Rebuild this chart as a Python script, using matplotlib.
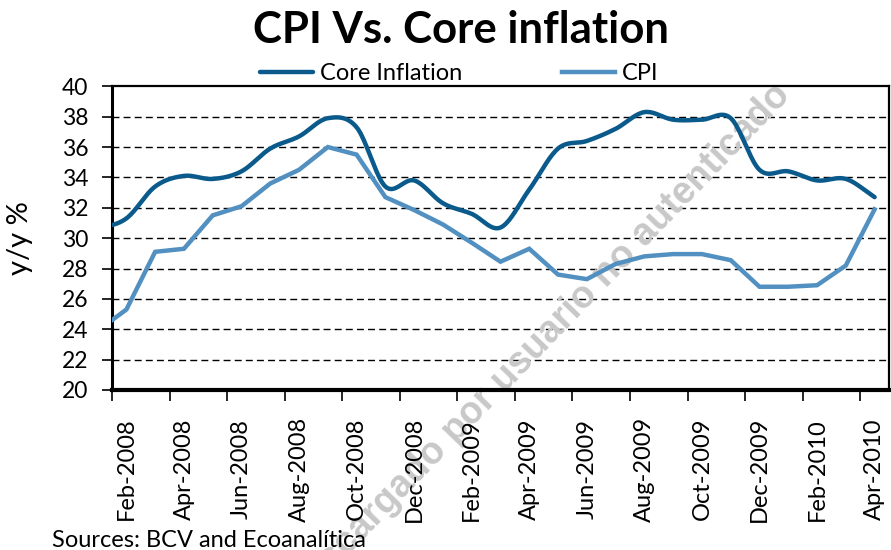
import numpy as np
import matplotlib
matplotlib.use("Agg")
import matplotlib.pyplot as plt

plt.rcParams['font.family'] = ['Lato', 'DejaVu Sans']

# monthly data, Jan-2008 .. Apr-2010 (Jan-2008 only shows as the clipped start)
months = ["Jan-2008", "Feb-2008", "Mar-2008", "Apr-2008", "May-2008", "Jun-2008",
          "Jul-2008", "Aug-2008", "Sep-2008", "Oct-2008", "Nov-2008", "Dec-2008",
          "Jan-2009", "Feb-2009", "Mar-2009", "Apr-2009", "May-2009", "Jun-2009",
          "Jul-2009", "Aug-2009", "Sep-2009", "Oct-2009", "Nov-2009", "Dec-2009",
          "Jan-2010", "Feb-2010", "Mar-2010", "Apr-2010"]
core = [30.6, 31.3, 33.4, 34.1, 33.9, 34.4, 35.9, 36.7, 37.9, 37.3, 33.4, 33.8,
        32.3, 31.6, 30.7, 33.2, 35.9, 36.4, 37.2, 38.3, 37.8, 37.8, 37.9, 34.5,
        34.4, 33.8, 33.9, 32.7]
cpi = [23.9, 25.3, 29.1, 29.3, 31.5, 32.1, 33.6, 34.5, 36.0, 35.5, 32.7, 31.85,
       30.9, 29.7, 28.45, 29.3, 27.6, 27.3, 28.3, 28.8, 28.95, 28.95, 28.55, 26.8,
       26.8, 26.9, 28.2, 31.9]
tick_labels = ["Feb-2008", "Apr-2008", "Jun-2008", "Aug-2008", "Oct-2008", "Dec-2008",
               "Feb-2009", "Apr-2009", "Jun-2009", "Aug-2009", "Oct-2009", "Dec-2009",
               "Feb-2010", "Apr-2010"]

x = np.arange(len(months)) - 1  # Feb-2008 -> 0


def smooth(xs, ys, n=20):
    # excel style smoothed line (catmull-rom)
    xs = np.asarray(xs, float)
    ys = np.asarray(ys, float)
    px = np.concatenate([[2 * xs[0] - xs[1]], xs, [2 * xs[-1] - xs[-2]]])
    py = np.concatenate([[2 * ys[0] - ys[1]], ys, [2 * ys[-1] - ys[-2]]])
    ox, oy = [], []
    t = np.linspace(0, 1, n, endpoint=False)
    for i in range(1, len(px) - 2):
        for arr, out in ((px, ox), (py, oy)):
            p0, p1, p2, p3 = arr[i - 1], arr[i], arr[i + 1], arr[i + 2]
            out.extend(0.5 * ((2 * p1) + (-p0 + p2) * t +
                              (2 * p0 - 5 * p1 + 4 * p2 - p3) * t ** 2 +
                              (-p0 + 3 * p1 - 3 * p2 + p3) * t ** 3))
    ox.append(xs[-1])
    oy.append(ys[-1])
    return np.array(ox), np.array(oy)


fig = plt.figure(figsize=(8.91, 5.5), dpi=100)
ax = fig.add_axes([112 / 891, 1 - 390 / 550, 777 / 891, (390 - 86.3) / 550])

core_col = '#0B5A8C'
cpi_col = '#5190C0'

sx, sy = smooth(x, core)
ax.plot(sx, sy, color=core_col, lw=3.2, label='Core Inflation', zorder=4,
        solid_capstyle='round')
ax.plot(x, cpi, color=cpi_col, lw=3.2, label='CPI', zorder=3,
        solid_joinstyle='miter')

ax.set_xlim(-0.5, 26.5)
ax.set_ylim(20, 40)
ax.set_yticks(np.arange(20, 41, 2))
ax.tick_params(axis='y', labelsize=16.5, length=7, width=1.2, direction='out', pad=10)

ax.set_xticks(np.arange(-0.5, 26, 2))
ax.set_xticklabels([])
ax.set_xticks(np.arange(0, 27, 2), minor=True)
ax.set_xticklabels(tick_labels, minor=True, rotation=90, fontsize=17)
for lb in ax.get_xticklabels(minor=True):
    lb.set_va('center')
ax.tick_params(axis='x', which='major', length=8, width=1.2, direction='out')
ax.tick_params(axis='x', which='minor', length=0, pad=57)

for yv in range(22, 40, 2):
    ax.axhline(yv, color='black', lw=1.0, ls=(0, (5, 3)), zorder=1)

for s in ['top', 'right']:
    ax.spines[s].set_linewidth(1.6)
ax.spines['left'].set_linewidth(2.2)
ax.spines['bottom'].set_linewidth(3.0)

ax.set_ylabel('y/y %', fontsize=21)
ax.yaxis.set_label_coords(-0.102, 0.5)

fig.text(0.517, 1 - 43 / 550, 'CPI Vs. Core inflation', ha='center', va='baseline',
         fontsize=31.5, fontweight='bold')

leg = ax.legend(loc='lower left', bbox_to_anchor=(148 / 777, 1.008), ncol=2,
                frameon=False, fontsize=17, handlelength=2.25, handletextpad=0.3,
                columnspacing=4.2, borderaxespad=0, borderpad=0)

fig.text(52 / 891, 1 - 547 / 550, 'Sources: BCV and Ecoanalítica', fontsize=17,
         va='baseline')

# faint watermark from the source document (runs off the bottom edge, as in the original)
# sits above the gridlines but under the lines and tick labels
ax.text(538 / 891, 1 - 345 / 550, 'Descargado por usuario no autenticado',
        transform=fig.transFigure, clip_on=False, rotation=46,
        rotation_mode='anchor', ha='center', va='center',
        fontsize=27, fontweight='bold', family='Liberation Sans',
        color='#c8c8c8', zorder=1.2)

fig.savefig('out.png', dpi=100)
